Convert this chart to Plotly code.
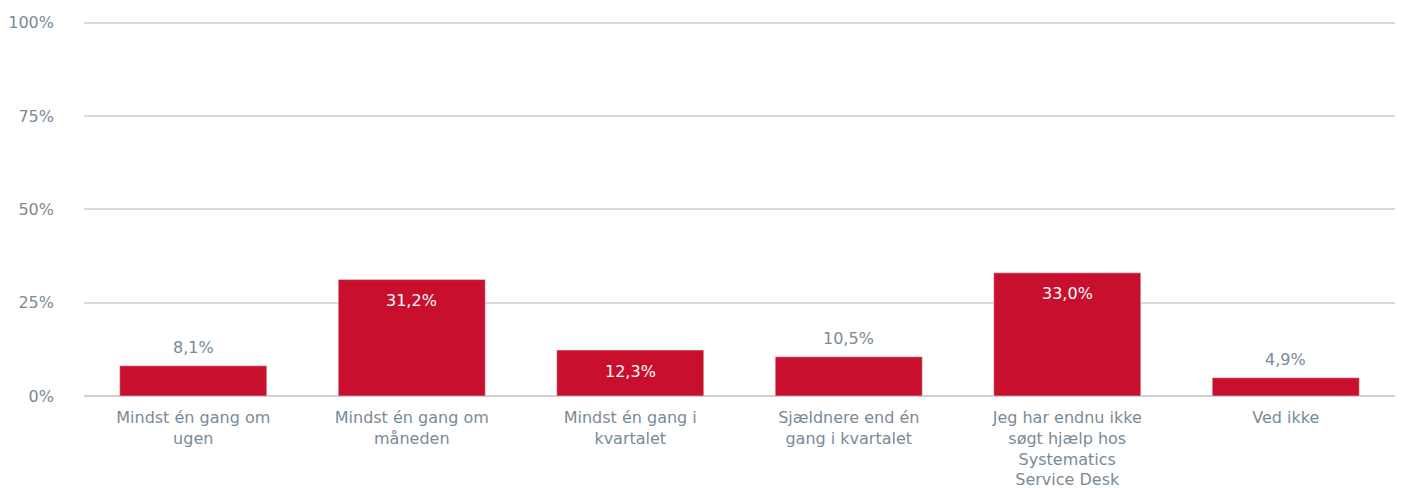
import plotly.graph_objects as go

categories = [
    "Mindst én gang om<br>ugen",
    "Mindst én gang om<br>måneden",
    "Mindst én gang i<br>kvartalet",
    "Sjældnere end én<br>gang i kvartalet",
    "Jeg har endnu ikke<br>søgt hjælp hos<br>Systematics<br>Service Desk",
    "Ved ikke",
]
values = [8.1, 31.2, 12.3, 10.5, 33.0, 4.9]
tick_vals = [0, 25, 50, 75, 100]
tick_text = ["0%", "25%", "50%", "75%", "100%"]

RED = "#c8102e"
GREY = "#7a8a97"
FONT = "DejaVu Sans, Liberation Sans, Arial, sans-serif"

fig = go.Figure(go.Bar(x=categories, y=values, marker_color=RED, hoverinfo="skip"))

for c, v in zip(categories, values):
    inside = v >= 12
    fig.add_annotation(
        x=c, y=v, xref="x", yref="y",
        text=f"{v:.1f}%".replace(".", ","),
        showarrow=False, yanchor="middle",
        yshift=-21 if inside else 18,
        font=dict(family=FONT, size=16, color="white" if inside else GREY),
    )

fig.update_layout(
    width=1396, height=480,
    margin=dict(l=76, r=9, t=13, b=92),
    paper_bgcolor="white", plot_bgcolor="white",
    bargap=0.327, showlegend=False,
    font=dict(family=FONT, size=16, color=GREY),
    xaxis=dict(showgrid=False, showline=False, ticks="", ticklabelstandoff=10,
               automargin=False,
               tickfont=dict(family=FONT, size=16, color=GREY)),
    yaxis=dict(range=[0, 100.5], tickvals=tick_vals, ticktext=tick_text,
               showgrid=True, gridcolor="#d9d9d9", gridwidth=2,
               zeroline=True, zerolinecolor="#d0d0d0", zerolinewidth=2,
               ticks="", ticklabelstandoff=29, automargin=False,
               tickfont=dict(family=FONT, size=16, color=GREY)),
)

fig.write_html("out.html")
